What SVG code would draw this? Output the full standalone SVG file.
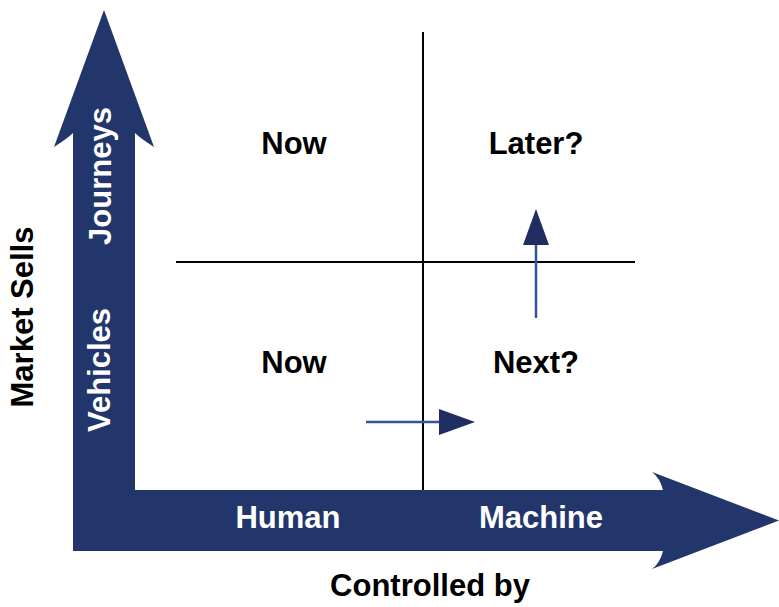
<svg xmlns="http://www.w3.org/2000/svg" width="779" height="607" viewBox="0 0 779 607">
  <defs>
    <style>
      .lbl { font-family: "Liberation Sans", Arial, sans-serif; font-weight: bold; font-size: 31px; text-anchor: middle; }
      .dark { fill: #000000; }
      .light { fill: #ffffff; }
      .axis { fill: #22366b; }
      .grid { stroke: #000000; stroke-width: 2; fill: none; }
      .move { stroke: #3552a0; stroke-width: 2.5; fill: none; }
      .movehead { fill: #1f2d60; }
    </style>
  </defs>

  <rect width="779" height="607" fill="#ffffff"/>

  <!-- L-shaped axis arrow: vertical "Market Sells", horizontal "Controlled by" -->
  <g id="axes">
    <path class="axis" d="M73,551 L73,133 Q68,138 54,147 L104,10 L154,147 Q140,138 135,133 L135,490 L663,490 Q660,478 652,472 L779,520.5 L652,569 Q660,563 663,551 Z"/>
  </g>

  <!-- quadrant dividers -->
  <g id="dividers">
    <line class="grid" x1="423" y1="32" x2="423" y2="490"/>
    <line class="grid" x1="176" y1="262" x2="635" y2="262"/>
  </g>

  <!-- movement arrows between quadrants -->
  <g id="connectors">
    <line class="move" x1="366" y1="422" x2="441" y2="422"/>
    <polygon class="movehead" points="439,409 475,422 439,435"/>
    <line class="move" x1="536" y1="318" x2="536" y2="243"/>
    <polygon class="movehead" points="523,245 536,209 549,245"/>
  </g>

  <g id="q-top-left"><text class="lbl dark" x="294" y="154">Now</text></g>
  <g id="q-top-right"><text class="lbl dark" x="536" y="154">Later?</text></g>
  <g id="q-bottom-left"><text class="lbl dark" x="294" y="373">Now</text></g>
  <g id="q-bottom-right"><text class="lbl dark" x="536" y="373">Next?</text></g>

  <g id="axis-labels">
    <text class="lbl light" x="288" y="528">Human</text>
    <text class="lbl light" x="541" y="528">Machine</text>
    <text class="lbl light" transform="translate(111,176) rotate(-90)">Journeys</text>
    <text class="lbl light" transform="translate(110,370) rotate(-90)">Vehicles</text>
    <text class="lbl dark" transform="translate(33,317) rotate(-90)">Market Sells</text>
    <text class="lbl dark" x="430" y="596">Controlled by</text>
  </g>
</svg>
